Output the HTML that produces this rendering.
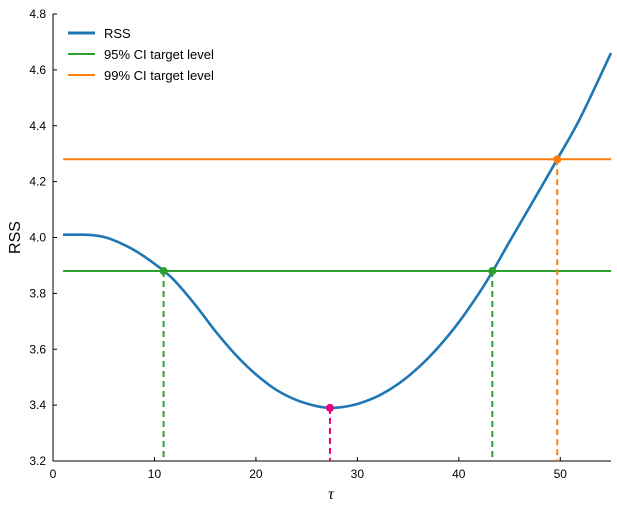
<!DOCTYPE html>
<html><head><meta charset="utf-8"><style>
body{margin:0;background:#fff;}
svg{display:block;font-family:"Liberation Sans","DejaVu Sans",sans-serif;}
</style></head><body>
<svg id="chart" width="617" height="509" viewBox="0 0 617 509"></svg>
<script>
const tau=[1,2,3,4,5,6,7,8,9,10,11,12,14,16,18,20,22,24,26,27.3,28.5,30,32,34,36,38,40,42,43.3,45,47,49.7,52,55];
const rss=[4.01,4.01,4.01,4.008,4.002,3.99,3.974,3.955,3.932,3.906,3.878,3.845,3.76,3.665,3.58,3.51,3.455,3.418,3.396,3.39,3.393,3.404,3.432,3.475,3.534,3.608,3.697,3.801,3.877,3.985,4.11,4.28,4.43,4.66];
const ci95=3.88, ci99=4.28;
const cross95=[10.9,43.3], cross99=[49.7], minPt=[27.3,3.39];
const xTicks=[0,10,20,30,40,50];
const yTicks=[3.2,3.4,3.6,3.8,4.0,4.2,4.4,4.6,4.8];
const legendLabels=["RSS","95% CI target level","99% CI target level"];

const X0=53,X1=611,Y0=461,Y1=14, xmin=0,xmax=55,ymin=3.2,ymax=4.8;
const sx=v=>X0+(v-xmin)/(xmax-xmin)*(X1-X0);
const sy=v=>Y0-(v-ymin)/(ymax-ymin)*(Y0-Y1);
const svg=document.getElementById('chart');
const NS='http://www.w3.org/2000/svg';
function mk(tag,attrs,parent){const e=document.createElementNS(NS,tag);for(const k in attrs)e.setAttribute(k,attrs[k]);(parent||svg).appendChild(e);return e;}

let e=mk('line',{x1:X0,y1:Y0,x2:X1,y2:Y0,stroke:'#000','stroke-width':1});


e=mk('line',{x1:X0,y1:Y0,x2:X0,y2:Y1,stroke:'#000','stroke-width':1});


xTicks.forEach(t=>{
  mk('line',{x1:sx(t),y1:Y0,x2:sx(t),y2:Y0-4,stroke:'#000'});
  const tx=mk('text',{x:sx(t),y:Y0+17,'text-anchor':'middle','font-size':12,fill:'#000'});
  tx.textContent=t;
  
  
});
yTicks.forEach(t=>{
  mk('line',{x1:X0,y1:sy(t),x2:X0+4,y2:sy(t),stroke:'#000'});
  const tx=mk('text',{x:X0-7,y:sy(t)+4,'text-anchor':'end','font-size':12,fill:'#000'});
  tx.textContent=t.toFixed(1);
  
  
});
e=mk('text',{x:331,y:499,'text-anchor':'middle','font-size':16,'font-style':'italic','font-family':'Liberation Serif,serif'});
e.textContent='τ';


e=mk('text',{x:20,y:Y1+(Y0-Y1)/2,'text-anchor':'middle','font-size':16,transform:`rotate(-90 20 ${Y1+(Y0-Y1)/2})`});
e.textContent='RSS';



e=mk('line',{x1:sx(1),x2:X1,y1:sy(ci99),y2:sy(ci99),stroke:'#ff7f0e','stroke-width':2});


e=mk('line',{x1:sx(1),x2:X1,y1:sy(ci95),y2:sy(ci95),stroke:'#2ca02c','stroke-width':2});



function drop(xv,yv,col,name){
  const l=mk('line',{x1:sx(xv),x2:sx(xv),y1:sy(yv),y2:Y0,stroke:col,'stroke-width':2,'stroke-dasharray':'6,4'});
  
  
}
cross95.forEach(v=>drop(v,ci95,'#2ca02c','ci95'));
cross99.forEach(v=>drop(v,ci99,'#ff7f0e','ci99'));
drop(minPt[0],minPt[1],'#e6007e','min');

const P=tau.map((t,i)=>[sx(t),sy(rss[i])]);
let d='M'+P[0][0].toFixed(1)+','+P[0][1].toFixed(1);
for(let i=0;i<P.length-1;i++){
  const p0=P[Math.max(0,i-1)],p1=P[i],p2=P[i+1],p3=P[Math.min(P.length-1,i+2)];
  const c1=[p1[0]+(p2[0]-p0[0])/6,p1[1]+(p2[1]-p0[1])/6];
  const c2=[p2[0]-(p3[0]-p1[0])/6,p2[1]-(p3[1]-p1[1])/6];
  d+=`C${c1[0].toFixed(1)},${c1[1].toFixed(1)} ${c2[0].toFixed(1)},${c2[1].toFixed(1)} ${p2[0].toFixed(1)},${p2[1].toFixed(1)}`;
}
e=mk('path',{d:d,fill:'none',stroke:'#1f77b4','stroke-width':2.6,'stroke-linejoin':'round'});



function dot(xv,yv,col,name){
  const c=mk('circle',{cx:sx(xv),cy:sy(yv),r:4,fill:col});
  
  
}
cross95.forEach(v=>dot(v,ci95,'#2ca02c','ci95-point'));
cross99.forEach(v=>dot(v,ci99,'#ff7f0e','ci99-point'));
dot(minPt[0],minPt[1],'#e6007e','min-point');

const lc=['#1f77b4','#2ca02c','#ff7f0e'];
legendLabels.forEach((lab,i)=>{
  const y=33+i*21;
  const g=mk('g',{});
  
  
  mk('line',{x1:68,x2:95,y1:y,y2:y,stroke:lc[i],'stroke-width':i==0?3:2},g);
  const t=mk('text',{x:104,y:y+5,'font-size':13},g);
  t.textContent=lab;
});
</script>
</body></html>
